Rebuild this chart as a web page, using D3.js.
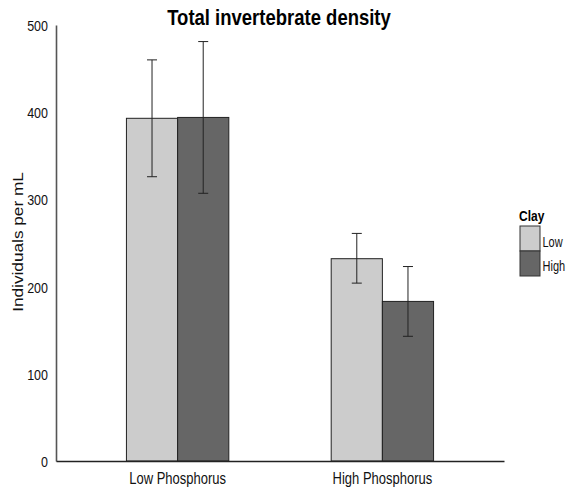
<!DOCTYPE html>
<html><head><meta charset="utf-8">
<script src="https://cdn.jsdelivr.net/npm/d3@7"></script>
<style>body{margin:0;background:#fff}svg{display:block}text{font-family:"Liberation Sans",Arial,sans-serif}</style>
</head><body>
<svg id="c" width="569" height="491"></svg>
<script>
const categories = ["Low Phosphorus", "High Phosphorus"];
const clayLevels = ["Low", "High"];
const meanLowClay = [393, 232];
const meanHighClay = [394, 183];
const upperLowClay = [460, 261];
const lowerLowClay = [326, 204];
const upperHighClay = [481, 223];
const lowerHighClay = [307, 143];
const yTicks = [0, 100, 200, 300, 400, 500];
const colors = ["#cccccc", "#666666"];

const data = [];
categories.forEach((c, i) => {
  data.push({cat: c, clay: "Low", mean: meanLowClay[i], up: upperLowClay[i], lo: lowerLowClay[i]});
  data.push({cat: c, clay: "High", mean: meanHighClay[i], up: upperHighClay[i], lo: lowerHighClay[i]});
});

const K = 1.2; // vertical stretch of glyphs seen in the reference
const svg = d3.select("#c");
const x0 = d3.scaleBand().domain(categories).range([56, 504]).paddingInner(0.5).paddingOuter(0.344);
const x1 = d3.scaleBand().domain(clayLevels).range([0, x0.bandwidth()]);
const y = d3.scaleLinear().domain([0, 500]).range([461, 25]);
const color = d3.scaleOrdinal().domain(clayLevels).range(colors);

// bars
svg.append("g").selectAll("rect").data(data).join("rect")
  .attr("x", d => x0(d.cat) + x1(d.clay))
  .attr("y", d => y(d.mean))
  .attr("width", x1.bandwidth())
  .attr("height", d => y(0) - y(d.mean))
  .attr("fill", d => color(d.clay))
  .attr("stroke", "#222").attr("stroke-width", 1);

// error bars
const eb = svg.append("g").attr("stroke", "#222").attr("stroke-width", 1);
data.forEach(d => {
  const cx = x0(d.cat) + x1(d.clay) + x1.bandwidth() / 2;
  eb.append("line").attr("x1", cx).attr("x2", cx).attr("y1", y(d.up)).attr("y2", y(d.lo));
  eb.append("line").attr("x1", cx - 5).attr("x2", cx + 5).attr("y1", y(d.up)).attr("y2", y(d.up));
  eb.append("line").attr("x1", cx - 5).attr("x2", cx + 5).attr("y1", y(d.lo)).attr("y2", y(d.lo));
});

// y axis
const ya = svg.append("g").attr("transform", "translate(56,0)")
  .call(d3.axisLeft(y).tickValues(yTicks).tickSize(0).tickPadding(8).tickFormat(d3.format("d")));
ya.select(".domain").attr("stroke", "#555").attr("stroke-width", 1.6);
ya.selectAll(".tick text").attr("font-size", 12.5).attr("fill", "#111")
  .attr("font-family", "Liberation Sans, Arial, sans-serif")
  .attr("y", 0).attr("dy", "0.36em").attr("transform", `scale(1,${K})`);

// x axis
const xa = svg.append("g").attr("transform", "translate(0,461)")
  .call(d3.axisBottom(x0).tickSize(0));
xa.select(".domain").attr("stroke", "#222").attr("stroke-width", 1.3);
xa.selectAll(".tick text").attr("font-size", 13).attr("fill", "#111")
  .attr("font-family", "Liberation Sans, Arial, sans-serif")
  .attr("y", 0).attr("dy", 0).attr("transform", `translate(0,23) scale(1,${K})`);

// title
svg.append("text").attr("transform", `translate(279,25) scale(1,1.15)`).attr("text-anchor", "middle")
  .attr("font-size", 18.5).attr("font-weight", "bold").attr("fill", "#000")
  .text("Total invertebrate density");

// y title
svg.append("text").attr("transform", `translate(22.5,242) rotate(-90) scale(1.23,1)`)
  .attr("text-anchor", "middle").attr("font-size", 14).attr("fill", "#111")
  .text("Individuals per mL");

// legend
const lg = svg.append("g");
lg.append("text").attr("transform", `translate(519,221) scale(1,${K})`).attr("font-size", 12)
  .attr("font-weight", "bold").attr("fill", "#000").text("Clay");
clayLevels.forEach((k, i) => {
  lg.append("rect").attr("x", 520).attr("y", 226 + i * 25).attr("width", 20).attr("height", 25)
    .attr("fill", color(k)).attr("stroke", "#333").attr("stroke-width", 1);
  lg.append("text").attr("transform", `translate(542.5,${247 + i * 24}) scale(1,1.3)`)
    .attr("font-size", 11).attr("fill", "#111").text(k);
});
</script>
</body></html>
